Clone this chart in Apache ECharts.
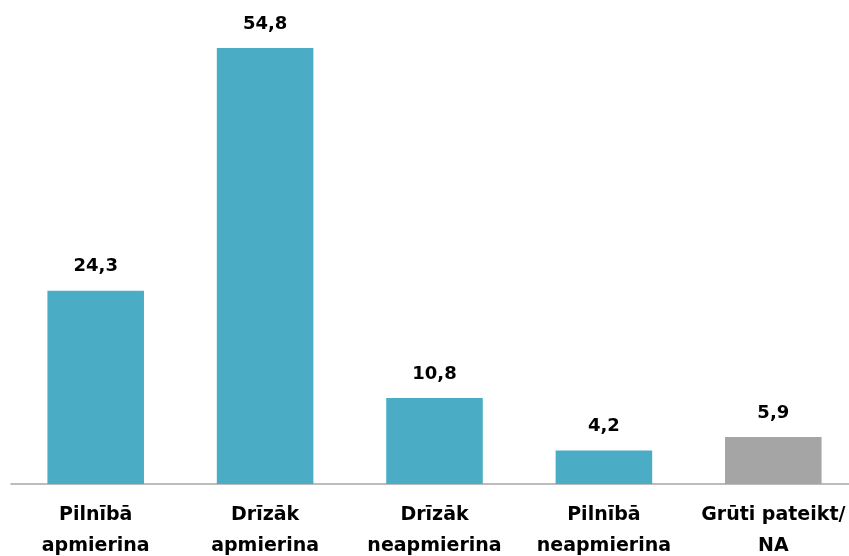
<!DOCTYPE html>
<html>
<head>
<meta charset="utf-8">
<script src="https://cdn.jsdelivr.net/npm/echarts@6/dist/echarts.min.js"></script>
<style>
  html, body { margin: 0; padding: 0; background: #ffffff; }
  #main { width: 849px; height: 556px; }
</style>
</head>
<body>
<div id="main"></div>
<script>
// dati
var categories = ['Pilnībā\napmierina', 'Drīzāk\napmierina', 'Drīzāk\nneapmierina', 'Pilnībā\nneapmierina', 'Grūti pateikt/\nNA'];
var values = [24.3, 54.8, 10.8, 4.2, 5.9];
var barColors = ['#4BACC6', '#4BACC6', '#4BACC6', '#4BACC6', '#A5A5A5'];

var myChart = echarts.init(document.getElementById('main'));

var option = {
    animation: false,
    grid: {
        left: 11,
        top: 6.6,
        width: 847,
        bottom: 72,
        containLabel: false,
        outerBoundsMode: 'none'
    },
    xAxis: {
        type: 'category',
        data: categories,
        axisLine: { lineStyle: { color: '#A6A6A6', width: 1.5 } },
        axisTick: { show: false },
        axisLabel: {
            interval: 0,
            margin: 16,
            color: '#000000',
            fontFamily: 'DejaVu Sans',
            fontWeight: 'bold',
            fontSize: 19,
            lineHeight: 31
        }
    },
    yAxis: {
        type: 'value',
        min: 0,
        max: 60,
        show: false,
        splitLine: { show: false }
    },
    series: [
        {
            type: 'bar',
            barWidth: '57%',
            data: values.map(function (v, i) {
                return { value: v, itemStyle: { color: barColors[i] } };
            }),
            label: {
                show: true,
                position: 'top',
                distance: 15,
                color: '#000000',
                fontFamily: 'DejaVu Sans',
                fontWeight: 'bold',
                fontSize: 18,
                formatter: function (p) {
                    return p.value.toFixed(1).replace('.', ',');
                }
            }
        }
    ]
};

myChart.setOption(option);
</script>
</body>
</html>
